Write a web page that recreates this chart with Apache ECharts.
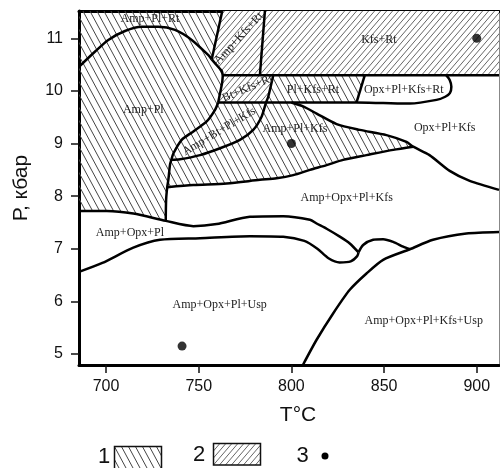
<!DOCTYPE html>
<html><head><meta charset="utf-8">
<script src="https://cdn.jsdelivr.net/npm/echarts@6/dist/echarts.min.js"></script>
<style>html,body{margin:0;padding:0;background:#fff}#c{width:500px;height:468px}</style>
</head><body><div id="c"></div>
<script>
// ---- ticks ----
const tTicks = [700, 750, 800, 850, 900];
const pTicks = [5, 6, 7, 8, 9, 10, 11];

// ---- phase boundaries (T °C, P kbar) ----
const lineAmpPlRt = [[685.4,10.46],[694.1,10.75],[701.2,10.97],[710.2,11.14],[719.2,11.22],[728.2,11.22],[737.2,11.16],[746.2,10.97],[755.2,10.68],[757.0,10.60]];
const lineAmpKfsRtL = [[762.7,11.52],[757.0,10.60]];
const lineAmpPlJ = [[757.0,10.60],[760.2,10.47],[762.4,10.38],[763.0,10.30]];
const lineBtKfsRtL = [[763.0,10.30],[762.6,10.15],[761.5,9.96],[760.5,9.78]];
const lineAmpPlR = [[760.5,9.78],[758.8,9.64],[754.3,9.42],[747.1,9.23],[740.8,9.07],[736.3,8.81],[735.2,8.69],[734.5,8.60],[733.6,8.31],[733.0,8.17],[732.4,7.93],[732.2,7.53]];
const lineAmpKfsRtR = [[785.7,11.52],[783.0,10.30]];
const lineRtTop = [[763.0,10.30],[912.0,10.30]];
const lineRtBottom = [[760.5,9.78],[786.3,9.78],[800.0,9.78],[835.1,9.78],[849.5,9.77],[863.9,9.76],[878.3,9.83],[883.0,9.89],[885.5,9.96],[886.3,10.08],[885.4,10.21],[883.5,10.30]];
const lineBtRight = [[790.2,10.30],[787.5,9.89],[786.3,9.78],[783.9,9.51],[779.4,9.26],[772.2,9.07],[761.5,8.91],[750.7,8.78],[739.9,8.70],[735.2,8.69]];
const lineRtDiag = [[839.6,10.30],[835.1,9.78]];
const lineKfsTop = [[800.0,9.78],[806.0,9.71],[813.6,9.57],[824.4,9.37],[836.9,9.26],[851.3,9.16],[862.1,9.03],[865.7,8.94],[874.5,8.78],[885.4,8.48],[896.2,8.29],[912.0,8.12]];
const lineKfsBottom = [[733.0,8.17],[747.1,8.21],[765.1,8.24],[783.0,8.31],[792.0,8.34],[801.0,8.40],[810.0,8.50],[819.0,8.59],[827.9,8.69],[840.5,8.78],[854.9,8.88],[865.7,8.94]];
const lineOpxPlTop = [[685.4,7.72],[700.4,7.72],[714.7,7.67],[732.2,7.53],[747.1,7.43],[759.7,7.47],[777.6,7.61],[795.6,7.62],[810.0,7.55],[813.6,7.48],[819.0,7.38],[826.1,7.23],[831.5,7.10],[836.2,6.93]];
const lineOpxPlBottom = [[685.4,6.56],[698.0,6.73],[714.7,7.02],[729.1,7.17],[750.7,7.20],[777.6,7.24],[795.6,7.23],[807.0,7.15],[814.0,7.00],[820.0,6.82],[826.0,6.74],[832.0,6.76],[835.5,6.86],[836.2,6.93]];
const lineBump = [[836.2,6.93],[838.7,7.07],[844.1,7.17],[849.5,7.18],[854.9,7.13],[860.3,7.04],[863.9,6.99]];
const lineUsp = [[806.2,4.79],[813.6,5.27],[822.5,5.77],[831.5,6.22],[840.5,6.53],[849.5,6.79],[863.9,6.99],[876.4,7.17],[894.4,7.29],[912.0,7.32]];

// ---- sample points (legend 3) ----
const samplePoints = [[900,11.0],[800,9.0],[741,5.15]];

// ---- field labels [text, T, P, angle°] ----
const fieldLabels = [
  ['Amp+Pl+Rt', 723.7, 11.38, 0],
  ['Amp+Kfs+Rt', 771.6, 11.0, 47],
  ['Kfs+Rt', 847.2, 10.98, 0],
  ['Bt+Kfs+Rt', 776.3, 10.05, 23],
  ['Pl+Kfs+Rt', 811.6, 10.03, 0],
  ['Opx+Pl+Kfs+Rt', 860.6, 10.03, 0],
  ['Amp+Pl', 720.1, 9.64, 0],
  ['Amp+Bt+Pl+Kfs', 761.0, 9.23, 31],
  ['Amp+Pl+Kfs', 801.9, 9.28, 0],
  ['Opx+Pl+Kfs', 882.7, 9.30, 0],
  ['Amp+Opx+Pl+Kfs', 829.8, 7.96, 0],
  ['Amp+Opx+Pl', 712.9, 7.31, 0],
  ['Amp+Opx+Pl+Usp', 761.3, 5.94, 0],
  ['Amp+Opx+Pl+Kfs+Usp', 871.4, 5.63, 0]
];

const T0 = 685.4, T1 = 912, P0 = 4.79, P1 = 11.52;

function hatchCanvas(w, h, dir, color, bg) {
  const c = document.createElement('canvas'); c.width = w; c.height = h;
  const g = c.getContext('2d');
  if (bg) { g.fillStyle = bg; g.fillRect(0, 0, w, h); }
  g.strokeStyle = color; g.lineWidth = 1;
  for (let k = -1; k <= 1; k++) {
    g.beginPath();
    if (dir > 0) { g.moveTo(k * w, 0); g.lineTo(k * w + w, h); }
    else { g.moveTo(k * w, h); g.lineTo(k * w + w, 0); }
    g.stroke();
  }
  return c;
}
const hatch1 = { image: hatchCanvas(7, 13, 1, '#444444', null), repeat: 'repeat' };
const hatch1b = { image: hatchCanvas(7, 13, 1, '#444444', '#ffffff'), repeat: 'repeat' };
const hatch2 = { image: hatchCanvas(6, 7, -1, '#666666', '#ffffff'), repeat: 'repeat' };

// polygons built from the boundary arrays
const kfsJ = lineKfsTop.findIndex(p => p[0] === 865.7);
const polyType1 = [[T0,P1],[T1,P1],lineRtTop[1],lineRtDiag[0],lineRtDiag[1],
  ...lineKfsTop.slice(0, kfsJ + 1),
  ...lineKfsBottom.slice().reverse(),
  ...lineAmpPlR.filter(p => p[1] < lineKfsBottom[0][1]),
  ...lineOpxPlTop.filter(p => p[0] < lineAmpPlR[lineAmpPlR.length-1][0]).reverse()];
const polyAmpKfsRt = [...lineAmpKfsRtL, ...lineAmpPlJ.slice(1), lineAmpKfsRtR[1], lineAmpKfsRtR[0]];
const polyKfsRt = [lineAmpKfsRtR[0], [T1,P1], lineRtTop[1], lineAmpKfsRtR[1]];
const polyBtKfsRt = [...lineBtKfsRtL, ...lineBtRight.slice(0,3).reverse()];

function polySeries(pts, fill) {
  return { type: 'custom', coordinateSystem: 'cartesian2d', silent: true, clip: true, z: 1,
    data: [pts[0]],
    renderItem: (params, api) => ({ type: 'polygon',
      shape: { points: pts.map(p => api.coord(p)) },
      style: { fill: fill, stroke: null } }) };
}
function lineSeries(pts) {
  return { type: 'line', data: pts, symbol: 'none', showSymbol: false, smooth: 0.25,
    lineStyle: { color: '#000', width: 2.5 }, silent: true, z: 3, clip: true };
}
const allLines = [lineAmpPlRt, lineAmpKfsRtL, lineAmpPlJ, lineBtKfsRtL, lineAmpPlR, lineAmpKfsRtR,
  lineRtTop, lineRtBottom, lineBtRight, lineRtDiag, lineKfsTop, lineKfsBottom,
  lineOpxPlTop, lineOpxPlBottom, lineBump, lineUsp];

const series = [
  polySeries(polyType1, hatch1),
  polySeries(polyAmpKfsRt, hatch2),
  polySeries(polyKfsRt, hatch2),
  polySeries(polyBtKfsRt, hatch2),
  ...allLines.map(lineSeries),
  { type: 'custom', coordinateSystem: 'cartesian2d', silent: true, z: 4,
    data: fieldLabels.map(l => [l[1], l[2], l[3], l[0]]),
    renderItem: (params, api) => {
      const d = fieldLabels[params.dataIndex];
      const pt = api.coord([d[1], d[2]]);
      return { type: 'text', x: pt[0], y: pt[1], rotation: d[3] * Math.PI / 180,
        style: { text: d[0], fontSize: 12, fontFamily: '"Liberation Serif", "Times New Roman", serif',
          fill: '#222', align: 'center', verticalAlign: 'middle' } };
    } },
  { type: 'scatter', data: samplePoints, symbol: 'circle', symbolSize: 9,
    itemStyle: { color: '#000' }, silent: true, z: 5 }
];

const chart = echarts.init(document.getElementById('c'), null, { renderer: 'canvas' });
const axisFont = '"Liberation Sans", Arial, sans-serif';
chart.setOption({
  animation: false,
  backgroundColor: '#fff',
  grid: { left: 79, right: 1, top: 11, bottom: 103, containLabel: false },
  xAxis: [
    { type: 'value', min: T0, max: T1, position: 'bottom',
      axisLine: { show: true, onZero: false, lineStyle: { color: '#000', width: 3 } },
      axisTick: { show: true, customValues: tTicks, length: 8, lineStyle: { color: '#111', width: 1.5 } },
      axisLabel: { customValues: tTicks, margin: 14, fontSize: 16, fontFamily: axisFont, color: '#111' },
      splitLine: { show: false },
      name: 'T°C', nameLocation: 'middle', nameGap: 40,
      nameTextStyle: { fontSize: 21, fontFamily: axisFont, color: '#111', padding: [0, 0, 0, 18] } },
    { type: 'value', min: T0, max: T1, position: 'top',
      axisLine: { show: true, onZero: false, lineStyle: { color: '#000', width: 3 } },
      axisTick: { show: false }, axisLabel: { show: false }, splitLine: { show: false } }
  ],
  yAxis: [
    { type: 'value', min: P0, max: P1, position: 'left',
      axisLine: { show: true, onZero: false, lineStyle: { color: '#000', width: 3 } },
      axisTick: { show: true, customValues: pTicks, length: 8, lineStyle: { color: '#111', width: 1.5 } },
      axisLabel: { customValues: pTicks, margin: 16, fontSize: 16, fontFamily: axisFont, color: '#111' },
      splitLine: { show: false },
      name: 'Р, кбар', nameLocation: 'middle', nameGap: 47,
      nameTextStyle: { fontSize: 21, fontFamily: axisFont, color: '#111' } },
    { type: 'value', min: P0, max: P1, position: 'right',
      axisLine: { show: true, onZero: false, lineStyle: { color: '#888', width: 1 } },
      axisTick: { show: false }, axisLabel: { show: false }, splitLine: { show: false } }
  ],
  series: series,
  graphic: [
    { type: 'text', x: 104, y: 457, style: { text: '1', fontSize: 22, fontFamily: axisFont, fill: '#111', align: 'center', verticalAlign: 'middle' } },
    { type: 'rect', shape: { x: 114.5, y: 446.5, width: 47, height: 24 }, style: { fill: hatch1b, stroke: '#111', lineWidth: 1.5 } },
    { type: 'text', x: 199, y: 455, style: { text: '2', fontSize: 22, fontFamily: axisFont, fill: '#111', align: 'center', verticalAlign: 'middle' } },
    { type: 'rect', shape: { x: 213.5, y: 443.5, width: 47, height: 21.5 }, style: { fill: hatch2, stroke: '#111', lineWidth: 1.5 } },
    { type: 'text', x: 302.5, y: 456, style: { text: '3', fontSize: 22, fontFamily: axisFont, fill: '#111', align: 'center', verticalAlign: 'middle' } },
    { type: 'circle', shape: { cx: 325, cy: 456, r: 3.5 }, style: { fill: '#000' } }
  ]
});
</script></body></html>
